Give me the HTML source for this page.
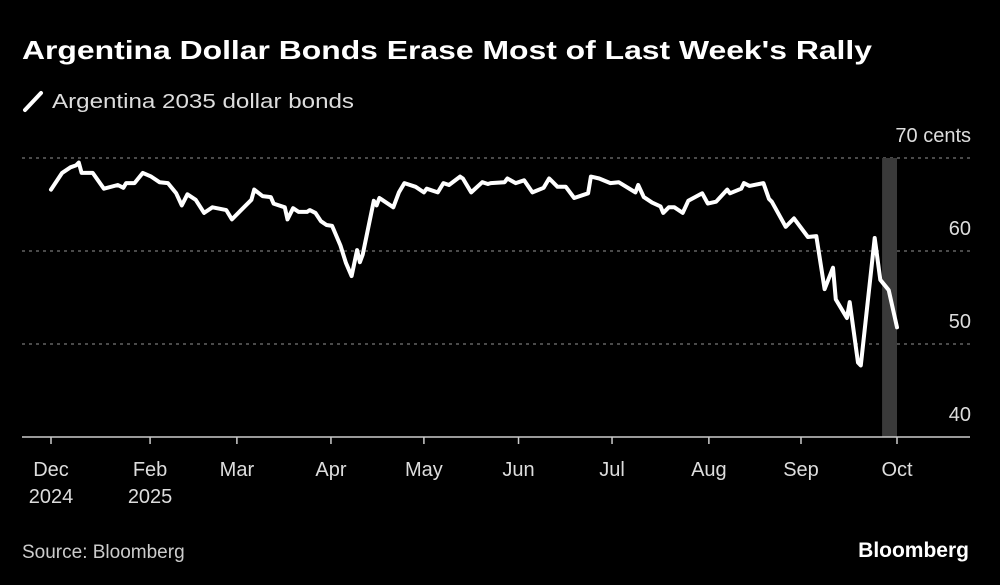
<!DOCTYPE html>
<html><head><meta charset="utf-8"><style>
html,body{margin:0;padding:0;background:#000;}
svg{display:block;font-family:"Liberation Sans",sans-serif;}
</style></head><body>
<svg id="chart" width="1000" height="585" viewBox="0 0 1000 585" xmlns="http://www.w3.org/2000/svg">
<rect width="1000" height="585" fill="#000"/>
<text x="22" y="59" fill="#fff" font-size="26" font-weight="bold" textLength="850" lengthAdjust="spacingAndGlyphs">Argentina Dollar Bonds Erase Most of Last Week's Rally</text>
<line x1="25" y1="110" x2="41" y2="93" stroke="#fff" stroke-width="4" stroke-linecap="round"/>
<text x="52" y="108" fill="#ddd" font-size="20" textLength="302" lengthAdjust="spacingAndGlyphs">Argentina 2035 dollar bonds</text>
<g id="grid"></g>
<g id="band"></g>
<g id="xaxis"></g>
<path id="line" fill="none" stroke="#fff" stroke-width="4" stroke-linejoin="round" stroke-linecap="round"/>
<text x="22" y="558" fill="#ccc" font-size="19">Source: Bloomberg</text>
<text x="969" y="557" fill="#fff" font-size="21" font-weight="bold" text-anchor="end">Bloomberg</text>
</svg>
<script>
// axis position units (0 = Dec tick, 304 = Oct tick)
const days = [0,4,7,9,10,11,15,19,24,26,27,30,33,36,39,42,45,47,49,52,55,58,63,65,69,72,73,76,79,80,84,85,87,89,92,93,95,97,99,101,104,106,108,110,111,112,116,117,118,123,125,127,131,134,135,139,141,143,147,148,151,155,157,158,163,164,167,170,173,177,179,180,182,185,188,193,194,197,201,204,210,211,213,216,219,220,222,224,227,229,234,236,239,243,244,248,249,251,256,258,259,264,267,272,275,278,281,282,286,287,290,291,296,298,301,304];
const values = [66.6,68.4,69.0,69.2,69.5,68.4,68.4,66.7,67.1,66.8,67.3,67.3,68.4,68.0,67.4,67.3,66.2,64.9,66.1,65.5,64.1,64.7,64.4,63.4,64.6,65.5,66.6,65.9,65.8,65.1,64.7,63.4,64.6,64.2,64.2,64.4,64.1,63.2,62.8,62.7,60.6,58.7,57.3,60.1,58.8,59.6,65.4,64.9,65.7,64.7,66.3,67.3,66.9,66.3,66.7,66.3,67.3,67.1,68.0,67.8,66.3,67.4,67.2,67.3,67.4,67.8,67.3,67.6,66.3,66.8,67.8,67.5,66.9,66.9,65.7,66.2,68.0,67.8,67.3,67.4,66.3,67.1,65.8,65.2,64.8,64.1,64.7,64.7,64.1,65.4,66.2,65.1,65.3,66.6,66.2,66.7,67.3,67.0,67.3,65.6,65.3,62.6,63.5,61.5,61.6,55.9,58.2,54.8,52.8,54.5,48.0,47.7,61.4,56.9,55.8,51.8];
const yTicks = [40,50,60,70];
const yTickLabels = ["40","50","60","70 cents"];
const monthDays = [0,35.6,66.8,100.6,134,168,201.6,236.4,269.5,304];
const monthLabels = ["Dec","Feb","Mar","Apr","May","Jun","Jul","Aug","Sep","Oct"];
const yearLabels = ["2024","2025","","","","","","","",""];
const bandStart = [299];
const bandEnd = [304];

const NS="http://www.w3.org/2000/svg";
const xS = d => 51 + d*(846/304);
const yS = v => 437 - (v-40)*(279/30);
const grid=document.getElementById('grid');
yTicks.forEach((t,i)=>{
  const y=yS(t);
  if(t>40){
    const l=document.createElementNS(NS,'line');
    
    
    l.setAttribute('x1',22);l.setAttribute('x2',970);l.setAttribute('y1',y);l.setAttribute('y2',y);
    l.setAttribute('stroke','#777');l.setAttribute('stroke-width','1.2');l.setAttribute('stroke-dasharray','3,4');
    grid.appendChild(l);
  }
  const tx=document.createElementNS(NS,'text');
  
  
  tx.setAttribute('x',971);tx.setAttribute('y',y-16);tx.setAttribute('text-anchor','end');
  tx.setAttribute('fill','#ddd');tx.setAttribute('font-size','20');
  tx.textContent=yTickLabels[i];
  grid.appendChild(tx);
});
const band=document.getElementById('band');
bandStart.forEach((b,i)=>{
  const r=document.createElementNS(NS,'rect');
  
  
  r.setAttribute('x',xS(b)-1);r.setAttribute('width',xS(bandEnd[i])-xS(b)+1);
  r.setAttribute('y',yS(70));r.setAttribute('height',yS(40)-yS(70));
  r.setAttribute('fill','#3a3a3a');
  band.appendChild(r);
});
const xa=document.getElementById('xaxis');
const ax=document.createElementNS(NS,'line');


ax.setAttribute('x1',22);ax.setAttribute('x2',970);ax.setAttribute('y1',437);ax.setAttribute('y2',437);
ax.setAttribute('stroke','#ccc');ax.setAttribute('stroke-width','1.5');
xa.appendChild(ax);
monthDays.forEach((d,i)=>{
  const x=xS(d);
  const t=document.createElementNS(NS,'line');
  
  
  t.setAttribute('x1',x);t.setAttribute('x2',x);t.setAttribute('y1',437);t.setAttribute('y2',444);
  t.setAttribute('stroke','#ccc');t.setAttribute('stroke-width','1.5');
  xa.appendChild(t);
  const tx=document.createElementNS(NS,'text');
  
  
  tx.setAttribute('x',x);tx.setAttribute('y',476);tx.setAttribute('text-anchor','middle');
  tx.setAttribute('fill','#ddd');tx.setAttribute('font-size','20');
  tx.textContent=monthLabels[i];
  xa.appendChild(tx);
  if(yearLabels[i]){
    const ty=document.createElementNS(NS,'text');
    
    
    ty.setAttribute('x',x);ty.setAttribute('y',503);ty.setAttribute('text-anchor','middle');
    ty.setAttribute('fill','#ddd');ty.setAttribute('font-size','20');
    ty.textContent=yearLabels[i];
    xa.appendChild(ty);
  }
});
document.getElementById('line').setAttribute('d',days.map((d,i)=>(i?'L':'M')+xS(d).toFixed(1)+','+yS(values[i]).toFixed(1)).join(''));
</script>
</body></html>
